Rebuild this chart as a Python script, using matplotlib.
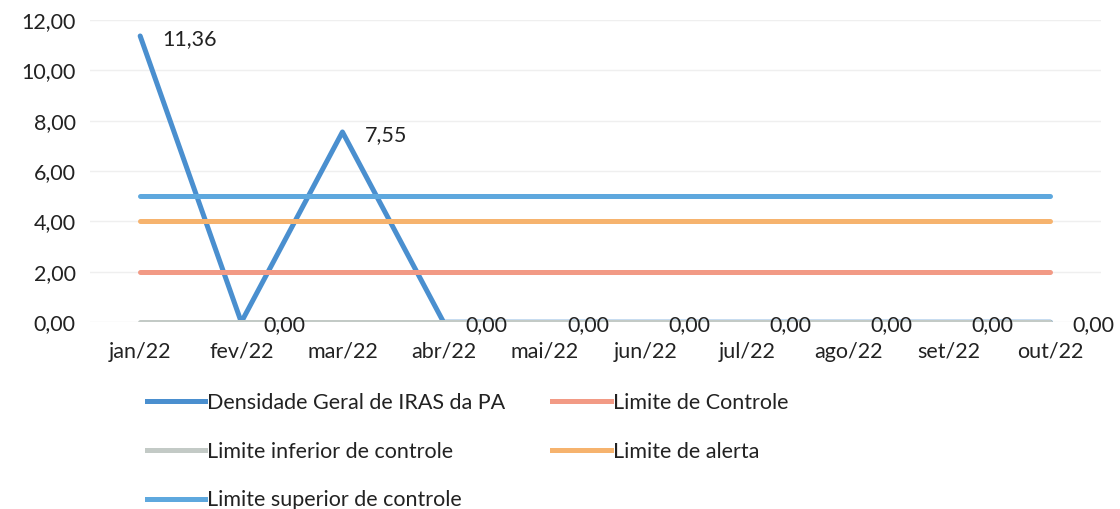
import matplotlib.pyplot as plt
from matplotlib.lines import Line2D

plt.rcParams['font.family'] = ['Lato', 'DejaVu Sans']

# dados
meses = ['jan/22', 'fev/22', 'mar/22', 'abr/22', 'mai/22', 'jun/22',
         'jul/22', 'ago/22', 'set/22', 'out/22']
densidade = [11.36, 0, 7.55, 0, 0, 0, 0, 0, 0, 0]
lim_controle = [2] * 10
lim_inferior = [0] * 10
lim_alerta = [4] * 10
lim_superior = [5] * 10

fig = plt.figure(figsize=(11.2, 5.09), dpi=100)
ax = fig.add_axes([0.080, 0.367, 0.903, 0.594])

x = list(range(len(meses)))
lw = 3.6
ax.plot(x, densidade, color='#4a8fcf', lw=lw, solid_capstyle='round', zorder=3)
ax.plot(x, lim_controle, color='#f29a85', lw=lw, solid_capstyle='round', zorder=4)
ax.plot(x, lim_inferior, color='#c3cac6', lw=lw, solid_capstyle='round', zorder=5)
ax.plot(x, lim_alerta, color='#f6b36e', lw=lw, solid_capstyle='round', zorder=6)
ax.plot(x, lim_superior, color='#5ea8de', lw=lw, solid_capstyle='round', zorder=7)

fs = 15.5
for i, v in enumerate(densidade):
    ax.annotate(f'{v:.2f}'.replace('.', ','), (i, v), xytext=(16, -2),
                textcoords='offset points', ha='left', va='center',
                fontsize=fs, color='#222222', zorder=8)

ax.set_xlim(-0.5, 9.5)
ax.set_ylim(0, 12)
ax.set_yticks(range(0, 13, 2))
ax.set_yticklabels([f'{t:.2f}'.replace('.', ',') for t in range(0, 13, 2)])
ax.set_xticks(x)
ax.set_xticklabels(meses)
ax.tick_params(length=0, labelsize=fs, colors='#222222', pad=10)
ax.tick_params(axis='x', pad=14)
ax.grid(axis='y', color='#efefef', lw=1)
ax.set_axisbelow(True)
for s in ax.spines.values():
    s.set_visible(False)

handles = [
    Line2D([], [], color='#4a8fcf', lw=lw),
    Line2D([], [], color='#c3cac6', lw=lw),
    Line2D([], [], color='#5ea8de', lw=lw),
    Line2D([], [], color='#f29a85', lw=lw),
    Line2D([], [], color='#f6b36e', lw=lw),
]
labels = ['Densidade Geral de IRAS da PA', 'Limite inferior de controle',
          'Limite superior de controle', 'Limite de Controle', 'Limite de alerta']
fig.legend(handles, labels, ncol=2, loc='upper left', bbox_to_anchor=(0.131, 0.228),
           frameon=False, fontsize=fs, handlelength=2.7, handletextpad=0.1,
           labelspacing=1.33, columnspacing=2.2, borderaxespad=0, borderpad=0,
           labelcolor='#222222')

fig.savefig('out.png', dpi=100)
